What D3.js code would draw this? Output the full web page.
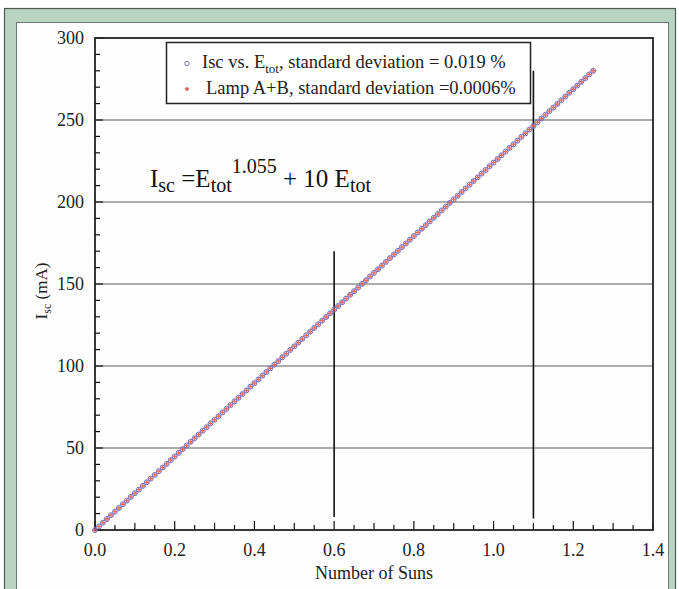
<!DOCTYPE html>
<html>
<head>
<meta charset="utf-8">
<script src="https://cdn.jsdelivr.net/npm/d3@7"></script>
<style>
  html,body{margin:0;padding:0;background:#fff;}
  svg{display:block;font-family:"Liberation Serif","Times New Roman",serif;}
</style>
</head>
<body>
<svg id="chart" width="679" height="589"></svg>
<script>
/* ---------- data --------------------------------------- */
const suns = [
  0,0.01,0.02,0.03,0.04,0.05,0.06,0.07,0.08,0.09,
  0.10,0.11,0.12,0.13,0.14,0.15,0.16,0.17,0.18,0.19,
  0.20,0.21,0.22,0.23,0.24,0.25,0.26,0.27,0.28,0.29,
  0.30,0.31,0.32,0.33,0.34,0.35,0.36,0.37,0.38,0.39,
  0.40,0.41,0.42,0.43,0.44,0.45,0.46,0.47,0.48,0.49,
  0.50,0.51,0.52,0.53,0.54,0.55,0.56,0.57,0.58,0.59,
  0.60,0.61,0.62,0.63,0.64,0.65,0.66,0.67,0.68,0.69,
  0.70,0.71,0.72,0.73,0.74,0.75,0.76,0.77,0.78,0.79,
  0.80,0.81,0.82,0.83,0.84,0.85,0.86,0.87,0.88,0.89,
  0.90,0.91,0.92,0.93,0.94,0.95,0.96,0.97,0.98,0.99,
  1.00,1.01,1.02,1.03,1.04,1.05,1.06,1.07,1.08,1.09,
  1.10,1.11,1.12,1.13,1.14,1.15,1.16,1.17,1.18,1.19,
  1.20,1.21,1.22,1.23,1.24,1.25
];

// Isc vs. Etot (circles)
const iscMA = [
  0,2.2,4.5,6.7,9.0,11.2,13.4,15.7,17.9,20.2,
  22.4,24.6,26.9,29.1,31.4,33.6,35.8,38.1,40.3,42.6,
  44.8,47.0,49.3,51.5,53.8,56.0,58.2,60.5,62.7,65.0,
  67.2,69.4,71.7,73.9,76.2,78.4,80.6,82.9,85.1,87.4,
  89.6,91.8,94.1,96.3,98.6,100.8,103.0,105.3,107.5,109.8,
  112.0,114.2,116.5,118.7,121.0,123.2,125.4,127.7,129.9,132.2,
  134.4,136.6,138.9,141.1,143.4,145.6,147.8,150.1,152.3,154.6,
  156.8,159.0,161.3,163.5,165.8,168.0,170.2,172.5,174.7,177.0,
  179.2,181.4,183.7,185.9,188.2,190.4,192.6,194.9,197.1,199.4,
  201.6,203.8,206.1,208.3,210.6,212.8,215.0,217.3,219.5,221.8,
  224.0,226.2,228.5,230.7,233.0,235.2,237.4,239.7,241.9,244.2,
  246.4,248.6,250.9,253.1,255.4,257.6,259.8,262.1,264.3,266.6,
  268.8,271.0,273.3,275.5,277.8,280.0
];

// Lamp A+B (plus marks)
const lampMA = [
  0,2.2,4.5,6.7,9.0,11.2,13.4,15.7,17.9,20.2,
  22.4,24.6,26.9,29.1,31.4,33.6,35.8,38.1,40.3,42.6,
  44.8,47.0,49.3,51.5,53.8,56.0,58.2,60.5,62.7,65.0,
  67.2,69.4,71.7,73.9,76.2,78.4,80.6,82.9,85.1,87.4,
  89.6,91.8,94.1,96.3,98.6,100.8,103.0,105.3,107.5,109.8,
  112.0,114.2,116.5,118.7,121.0,123.2,125.4,127.7,129.9,132.2,
  134.4,136.6,138.9,141.1,143.4,145.6,147.8,150.1,152.3,154.6,
  156.8,159.0,161.3,163.5,165.8,168.0,170.2,172.5,174.7,177.0,
  179.2,181.4,183.7,185.9,188.2,190.4,192.6,194.9,197.1,199.4,
  201.6,203.8,206.1,208.3,210.6,212.8,215.0,217.3,219.5,221.8,
  224.0,226.2,228.5,230.7,233.0,235.2,237.4,239.7,241.9,244.2,
  246.4,248.6,250.9,253.1,255.4,257.6,259.8,262.1,264.3,266.6,
  268.8,271.0,273.3,275.5,277.8,280.0
];

const xTicks = [0,0.2,0.4,0.6,0.8,1.0,1.2,1.4];
const yTicks = [0,50,100,150,200,250,300];
// marker lines drawn on the chart: [suns, bottom mA, top mA]
const markers = [[0.6, 8, 170], [1.1, 7, 280]];

/* ---------- svg & scales ------------------------------ */
const svg = d3.select('#chart');
const W = 679, H = 589;

// green frame + white panel
svg.append('rect').attr('x',0).attr('y',0).attr('width',W).attr('height',H).attr('fill','#fff');
svg.append('rect').attr('x',4.5).attr('y',8.5).attr('width',671).attr('height',H)
   .attr('fill','#b9d4c3').attr('stroke','#4a5a50').attr('stroke-width',1.2);
svg.append('rect').attr('x',16.5).attr('y',22.5).attr('width',652).attr('height',H)
   .attr('fill','#fefefe').attr('stroke','#6b7a70').attr('stroke-width',1);

const M = {l:95, r:653, t:38, b:530};
const x = d3.scaleLinear().domain([0,1.4]).range([M.l, M.r]);
const y = d3.scaleLinear().domain([0,300]).range([M.b, M.t]);

const g = svg.append('g');

/* gridlines */
g.selectAll('.grid').data(yTicks.filter(d=>d>0 && d<300)).enter().append('line')
  .attr('x1',M.l).attr('x2',M.r)
  .attr('y1',d=>y(d)).attr('y2',d=>y(d))
  .attr('stroke','#5a5a5a').attr('stroke-width',1);

/* minor / major ticks, pointing inward */
const xMinor = d3.range(0, 1.4001, 0.05);
g.selectAll('.xt').data(xMinor).enter().append('line')
  .attr('x1',d=>x(d)).attr('x2',d=>x(d))
  .attr('y1',M.b).attr('y2',(d,i)=> M.b - (i%4===0 ? 9 : (i%2===0 ? 7 : 5)))
  .attr('stroke','#111').attr('stroke-width',1.2);

const yMinor = d3.range(0, 300.1, 10);
g.selectAll('.yt').data(yMinor).enter().append('line')
  .attr('y1',d=>y(d)).attr('y2',d=>y(d))
  .attr('x1',M.l).attr('x2',(d,i)=> M.l + (i%5===0 ? 8 : 5))
  .attr('stroke','#111').attr('stroke-width',1.2);

/* frame of plot */
g.append('rect').attr('x',M.l).attr('y',M.t)
  .attr('width',M.r-M.l).attr('height',M.b-M.t)
  .attr('fill','none').attr('stroke','#222').attr('stroke-width',1.8);

/* tick labels */
g.selectAll('.xl').data(xTicks).enter().append('text')
  .attr('x',d=>x(d)).attr('y',M.b+26)
  .attr('text-anchor','middle')
  .style('font-size','18px').style('fill','#222')
  .text(d=>d.toFixed(1));

g.selectAll('.yl').data(yTicks).enter().append('text')
  .attr('x',M.l-11).attr('y',d=>y(d)).attr('dy','.35em')
  .attr('text-anchor','end')
  .style('font-size','18px').style('fill','#222')
  .text(d=>d);

/* axis titles */
svg.append('text').attr('x',374).attr('y',579)
  .attr('text-anchor','middle').style('font-size','18px').style('fill','#222')
  .text('Number of Suns');

const yt = svg.append('text')
  .attr('transform',`translate(47,291) rotate(-90)`)
  .attr('text-anchor','middle').style('font-size','17px').style('fill','#222');
yt.append('tspan').text('I');
yt.append('tspan').attr('dy',4).style('font-size','12px').text('sc');
yt.append('tspan').attr('dy',-4).text(' (mA)');

/* vertical marker lines */
g.selectAll('.mk').data(markers).enter().append('line')
  .attr('x1',d=>x(d[0])).attr('x2',d=>x(d[0]))
  .attr('y1',d=>y(d[1])).attr('y2',d=>y(d[2]))
  .attr('stroke','#111').attr('stroke-width',1.6);

/* data points */
const pts = suns.map((s,i)=>({s, isc:iscMA[i], lamp:lampMA[i]}));

g.selectAll('.circ').data(pts).enter().append('circle')
  .attr('cx',d=>x(d.s)).attr('cy',d=>y(d.isc)).attr('r',2.5)
  .attr('fill','none').attr('stroke','#7070c4').attr('stroke-width',1);

const plus = d3.symbol().type(d3.symbolCross).size(10);
g.selectAll('.plus').data(pts).enter().append('path')
  .attr('transform',d=>`translate(${x(d.s)},${y(d.lamp)})`)
  .attr('d',plus).attr('fill','#d9534a').attr('opacity',0.85);

/* legend */
const L = svg.append('g');
L.append('rect').attr('x',166.5).attr('y',42.5).attr('width',364).attr('height',61)
  .attr('fill','#fff').attr('stroke','#222').attr('stroke-width',1.5);
L.append('circle').attr('cx',187).attr('cy',63.5).attr('r',2.2)
  .attr('fill','none').attr('stroke','#7070c4').attr('stroke-width',1);
L.append('path').attr('transform','translate(187,89)').attr('d',plus).attr('fill','#d9534a');

const l1 = L.append('text').attr('x',202).attr('y',68).style('font-size','18.5px').style('fill','#222');
l1.append('tspan').text('Isc vs. E');
l1.append('tspan').attr('dy',5).style('font-size','13px').text('tot');
l1.append('tspan').attr('dy',-5).text(', standard deviation = 0.019 %');

L.append('text').attr('x',206).attr('y',94).style('font-size','18.5px').style('fill','#222')
  .text('Lamp A+B, standard deviation =0.0006%');

/* equation */
const eq = svg.append('text').attr('x',150).attr('y',187)
  .style('font-size','25px').style('fill','#111');
eq.append('tspan').text('I');
eq.append('tspan').attr('dy',5).style('font-size','20px').text('sc');
eq.append('tspan').attr('dy',-5).text(' =E');
eq.append('tspan').attr('dy',5).style('font-size','20px').text('tot');
eq.append('tspan').attr('dy',-19).style('font-size','20px').text('1.055');
eq.append('tspan').attr('dy',14).text(' + 10 E');
eq.append('tspan').attr('dy',5).style('font-size','20px').text('tot');
</script>
</body>
</html>
